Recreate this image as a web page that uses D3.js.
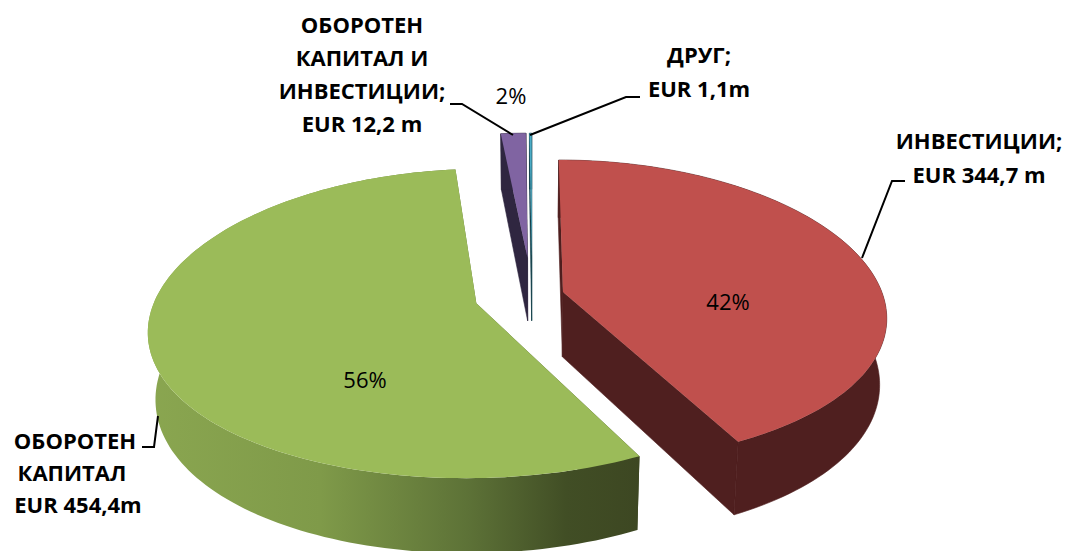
<!DOCTYPE html>
<html>
<head>
<meta charset="utf-8">
<script src="https://cdn.jsdelivr.net/npm/d3@7"></script>
<style>
	html, body { margin: 0; padding: 0; background: #fff; }
	text { font-family: "Open Sans", "Noto Sans", sans-serif; fill: #000; }
	.label { font-weight: 700; font-size: 22px; text-anchor: middle; }
	.pct { font-size: 22px; text-anchor: middle; }
</style>
</head>
<body>
<svg id="chart"></svg>
<script>
// Chart data
const categories = ["ИНВЕСТИЦИИ", "ОБОРОТЕН КАПИТАЛ", "ОБОРОТЕН КАПИТАЛ И ИНВЕСТИЦИИ", "ДРУГ"];
const values = [344.7, 454.4, 12.2, 1.1];
const percentLabels = ["42%", "56%", "2%", ""];
const explode = [0.1, 0.18, 0.26, 0.26];

const topColors = ["#c0504d", "#9bbb59", "#8064a2", "#4bacc6"];
const sideColors = ["#4f1f1f", "url(#greenWall)", "#2f2640", "#123f4a"];

const width = 1066;
const height = 551;
const svg = d3.select("#chart").attr("width", width).attr("height", height);

// Perspective projection of the pie plane
const cx = 532;
const cy = 295.5;
const perspX = 0.16;
const perspY = 0.13;
const scaleX = d3.scaleLinear().domain([-1, 1]).range([-320, 320]);
const scaleY = d3.scaleLinear().domain([-1, 1]).range([150, -150]);

function project(u, v) {
	return [cx + scaleX(u) / (1 + perspX * v), cy + scaleY(v) / (1 + perspY * v)];
}

// Bottom face is a bit narrower and deeper towards the viewer
function lower(p) {
	return [cx + (p[0] - cx) * 0.98, p[1] + 65 + 0.055 * (p[1] - cy)];
}

const pie = d3.pie().value((d) => d).sort(null);
const slices = pie(values);
const line = d3.line();

// Green wall gradient
const grad = svg.append("defs").append("linearGradient")
	.attr("id", "greenWall")
	.attr("gradientUnits", "userSpaceOnUse")
	.attr("x1", 148).attr("x2", 640).attr("y1", 0).attr("y2", 0);
grad.selectAll("stop")
	.data([[0, "#8aa650"], [0.35, "#7f9a49"], [0.65, "#5d7237"], [0.85, "#414e25"], [1, "#3d4722"]])
	.enter().append("stop")
	.attr("offset", (d) => d[0])
	.attr("stop-color", (d) => d[1]);

// Outline points of each slice
const shapes = slices.map((s, i) => {
	const mid = (s.startAngle + s.endAngle) / 2;
	const ou = Math.sin(mid) * explode[i];
	const ov = Math.cos(mid) * explode[i];
	const n = Math.max(2, Math.ceil((s.endAngle - s.startAngle) * 40));
	const rim = d3.range(n + 1).map((k) => {
		const a = s.startAngle + ((s.endAngle - s.startAngle) * k) / n;
		return project(ou + Math.sin(a), ov + Math.cos(a));
	});
	return { apex: project(ou, ov), rim, i };
});

// Draw order: big slices first, thin ones last
const drawOrder = [1, 0, 2, 3];
const g = svg.append("g");
drawOrder.forEach((idx) => {
	const { apex, rim, i } = shapes[idx];
	const first = rim[0];
	const last = rim[rim.length - 1];
	// cut faces go under the outer wall
	const walls = [
		[apex, first, lower(first), lower(apex)],
		[apex, last, lower(last), lower(apex)],
		rim.concat(rim.map(lower).reverse()),
	];
	walls.forEach((w) => {
		g.append("path")
			.attr("d", line(w) + "Z")
			.attr("fill", sideColors[i])
			.attr("stroke", i === 1 ? "none" : sideColors[i]) // hides the seam between faces
			.attr("stroke-width", 0.6);
	});
	g.append("path")
		.attr("d", line([apex].concat(rim)) + "Z")
		.attr("fill", topColors[i]);
});

// Leader lines
const leaders = [
	[[450, 104], [462, 104], [513, 135]],
	[[640, 97], [626, 97], [530, 135]],
	[[905, 181], [892, 181], [862, 258]],
	[[142, 447], [154, 447], [158, 416]],
];
svg.append("g").selectAll("path")
	.data(leaders)
	.enter().append("path")
	.attr("d", (d) => line(d))
	.attr("fill", "none")
	.attr("stroke", "#000")
	.attr("stroke-width", 2);

// Data labels
const labels = [
	{ x: 362, y: 33, t: "ОБОРОТЕН" },
	{ x: 362, y: 66, t: "КАПИТАЛ И" },
	{ x: 362, y: 99, t: "ИНВЕСТИЦИИ;" },
	{ x: 362, y: 132, t: "EUR 12,2 m" },
	{ x: 699, y: 63, t: "ДРУГ;" },
	{ x: 699, y: 97, t: "EUR 1,1m" },
	{ x: 979, y: 149, t: "ИНВЕСТИЦИИ;" },
	{ x: 979, y: 183, t: "EUR 344,7 m" },
	{ x: 75, y: 449, t: "ОБОРОТЕН" },
	{ x: 72, y: 481, t: "КАПИТАЛ" },
	{ x: 78, y: 513, t: "EUR 454,4m" },
];
svg.append("g").selectAll("text")
	.data(labels)
	.enter().append("text")
	.attr("class", "label")
	.attr("x", (d) => d.x)
	.attr("y", (d) => d.y)
	.text((d) => d.t);

const pctPos = [[728, 310], [365, 388], [511, 104]];
svg.append("g").selectAll("text")
	.data(pctPos)
	.enter().append("text")
	.attr("class", "pct")
	.attr("x", (d) => d[0])
	.attr("y", (d) => d[1])
	.text((d, i) => percentLabels[i]);
</script>
</body>
</html>
